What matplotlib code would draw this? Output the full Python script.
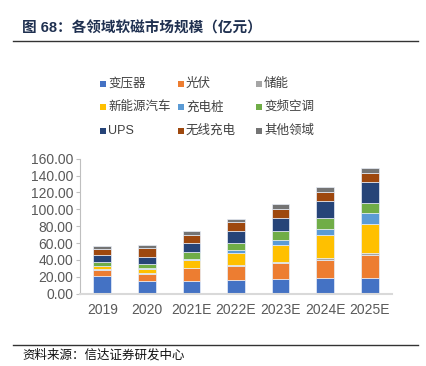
import numpy as np
import matplotlib
matplotlib.use('Agg')
import matplotlib.pyplot as plt
from matplotlib.patches import Rectangle

plt.rcParams['font.family'] = ['Liberation Sans', 'Noto Sans CJK SC', 'DejaVu Sans']

years = ['2019', '2020', '2021E', '2022E', '2023E', '2024E', '2025E']
names = ['变压器', '光伏', '储能', '新能源汽车', '充电桩', '变频空调', 'UPS', '无线充电', '其他领域']
colors = ['#4472C4', '#ED7D31', '#A5A5A5', '#FFC000', '#5B9BD5', '#70AD47', '#264478', '#9E480E', '#747474']

transformer = [21.0, 14.6, 15.4, 16.6, 17.4, 18.2, 19.0]
pv = [7.3, 9.1, 14.6, 16.6, 19.4, 22.1, 26.8]
storage = [0.7, 0.8, 0.8, 0.8, 0.7, 2.0, 2.0]
nev = [3.4, 4.7, 9.5, 14.6, 20.2, 26.9, 35.2]
charging = [0.8, 0.8, 0.8, 2.8, 5.9, 7.9, 12.7]
inverter_ac = [4.3, 5.2, 7.9, 8.6, 10.3, 12.2, 12.2]
ups = [8.7, 8.7, 11.0, 14.3, 16.2, 20.2, 24.1]
wireless = [6.8, 9.9, 10.0, 10.3, 10.3, 11.5, 11.5]
others = [3.1, 3.5, 3.9, 4.3, 5.5, 5.0, 5.9]

series = [transformer, pv, storage, nev, charging, inverter_ac, ups, wireless, others]

W, H = 426, 366
fig = plt.figure(figsize=(W / 100, H / 100), dpi=100)
ax = fig.add_axes([0.188, 0.1975, 0.732, 0.369])

x = np.arange(len(years))
bottom = np.zeros(len(years))
for vals, c in zip(series, colors):
    ax.bar(x, vals, 0.4, bottom=bottom, color=c, edgecolor='#e8eef8', linewidth=0.5)
    bottom += np.array(vals)

ax.set_xlim(-0.5, len(years) - 0.5)
ax.set_ylim(0, 160)
ax.set_yticks(np.arange(0, 161, 20))
ax.set_yticklabels(['%.2f' % v for v in np.arange(0, 161, 20)])
ax.set_xticks(x)
ax.set_xticklabels(years)
ax.tick_params(axis='both', labelsize=10, colors='#595959')
ax.tick_params(axis='x', length=0, pad=7)
ax.tick_params(axis='y', length=3, color='#bfbfbf', pad=2)
for s in ['top', 'right']:
    ax.spines[s].set_visible(False)
ax.spines['left'].set_color('#bfbfbf')
ax.spines['bottom'].set_color('#d9d9d9')
ax.spines['bottom'].set_linewidth(1.5)

# legend drawn by hand, 3 x 3 grid (row-major)
col_x = [103, 181, 259]
row_y = [84, 107, 131]
for i, (name, c) in enumerate(zip(names, colors)):
    px = col_x[i % 3]
    py = row_y[i // 3]
    fig.add_artist(Rectangle(((px - 3) / W, 1 - (py + 3) / H), 6 / W, 6 / H,
                             transform=fig.transFigure, facecolor=c, edgecolor='none'))
    fig.text((px + 5) / W, 1 - py / H, name, fontsize=9, color='#404040', va='center')

# header and footer
fig.text(22 / W, 1 - 28 / H, '图 68：各领域软磁市场规模（亿元）', fontsize=10.5, fontweight='bold',
         color='#1f3050', va='center')
fig.add_artist(plt.Line2D([0.03, 0.982], [0.888, 0.888], color='#333333', lw=1))
fig.add_artist(plt.Line2D([0.03, 0.982], [0.057, 0.057], color='#333333', lw=1))
fig.text(22 / W, 1 - 355 / H, '资料来源：信达证券研发中心', fontsize=9, color='#111111',
         va='center', style='italic')

fig.savefig('out.png', dpi=100)
